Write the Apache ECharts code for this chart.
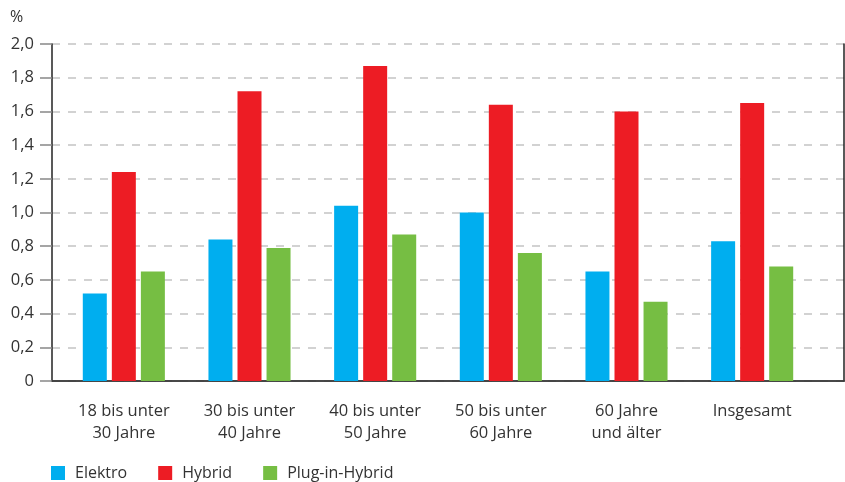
<!DOCTYPE html>
<html>
<head>
<meta charset="utf-8">
<script src="https://cdn.jsdelivr.net/npm/echarts@6/dist/echarts.min.js"></script>
<style>
  html, body { margin: 0; padding: 0; background: #fff; }
  #chart { width: 845px; height: 482px; }
</style>
</head>
<body>
<div id="chart"></div>
<script>
const categories = ['18 bis unter\n30 Jahre', '30 bis unter\n40 Jahre', '40 bis unter\n50 Jahre', '50 bis unter\n60 Jahre', '60 Jahre\nund älter', 'Insgesamt']
const elektro = [0.52, 0.84, 1.04, 1.00, 0.65, 0.83]
const hybrid = [1.24, 1.72, 1.87, 1.64, 1.60, 1.65]
const plugIn = [0.65, 0.79, 0.87, 0.76, 0.47, 0.68]
const yTicks = [0, 0.2, 0.4, 0.6, 0.8, 1.0, 1.2, 1.4, 1.6, 1.8, 2.0]

const font = '"Open Sans", "Noto Sans", sans-serif'
const textColor = '#333'

const chart = echarts.init(document.getElementById('chart'))

// grid 0: Rahmen, Raster und y-Achse; grid 1: Balken
const option = {
  animation: false,
  textStyle: { fontFamily: font },
  graphic: [
    { type: 'text', left: 10, top: 9, style: { text: '%', fontSize: 16, fill: textColor, fontFamily: font } }
  ],
  legend: {
    left: 46,
    top: 460,
    icon: 'rect',
    itemWidth: 14,
    itemHeight: 14,
    itemGap: 31,
    textStyle: { fontSize: 16, color: textColor, fontFamily: font, padding: [0, 0, 0, 5] },
    data: ['Elektro', 'Hybrid', 'Plug-in-Hybrid']
  },
  grid: [
    { left: 52, right: 1, top: 44, bottom: 101 },
    { left: 61, right: 30, top: 44, bottom: 101 }
  ],
  xAxis: [
    {
      gridIndex: 0, type: 'category', data: [''],
      axisLine: { lineStyle: { color: '#222', width: 1.5 } },
      axisTick: { show: false }, axisLabel: { show: false }
    },
    {
      gridIndex: 0, type: 'category', data: [''], position: 'top',
      axisLine: { lineStyle: { color: '#444', width: 1.5 } },
      axisTick: { show: false }, axisLabel: { show: false }
    },
    {
      gridIndex: 1, type: 'category', data: categories,
      axisLine: { show: false }, axisTick: { show: false },
      axisLabel: { color: textColor, fontSize: 16.5, lineHeight: 22, margin: 19, fontFamily: font }
    }
  ],
  yAxis: [
    {
      gridIndex: 0, type: 'value', min: 0, max: 2, interval: 0.2,
      axisLine: { show: true, lineStyle: { color: '#222', width: 1.5 } },
      axisTick: { show: true, length: 12, lineStyle: { color: '#888', width: 1.5 } },
      axisLabel: {
        color: textColor, fontSize: 16.5, margin: 18, fontFamily: font,
        formatter: v => {
          const t = yTicks.find(x => Math.abs(x - v) < 1e-6)
          return t === 0 ? '0' : t.toFixed(1).replace('.', ',')
        }
      },
      splitLine: { show: true, lineStyle: { color: '#c4c4c4', width: 1.5, type: [8, 8] } }
    },
    {
      gridIndex: 0, type: 'value', min: 0, max: 2, position: 'right',
      axisLine: { show: true, lineStyle: { color: '#222', width: 1.5 } },
      axisTick: { show: false }, axisLabel: { show: false }, splitLine: { show: false }
    },
    {
      gridIndex: 1, type: 'value', min: 0, max: 2, show: false
    }
  ],
  series: [
    { name: 'Elektro', type: 'bar', xAxisIndex: 2, yAxisIndex: 2, barWidth: 24, barGap: '21%', itemStyle: { color: '#00aeef' }, data: elektro },
    { name: 'Hybrid', type: 'bar', xAxisIndex: 2, yAxisIndex: 2, barWidth: 24, barGap: '21%', itemStyle: { color: '#ed1c24' }, data: hybrid },
    { name: 'Plug-in-Hybrid', type: 'bar', xAxisIndex: 2, yAxisIndex: 2, barWidth: 24, barGap: '21%', itemStyle: { color: '#76be43' }, data: plugIn }
  ]
}

chart.setOption(option)
</script>
</body>
</html>
